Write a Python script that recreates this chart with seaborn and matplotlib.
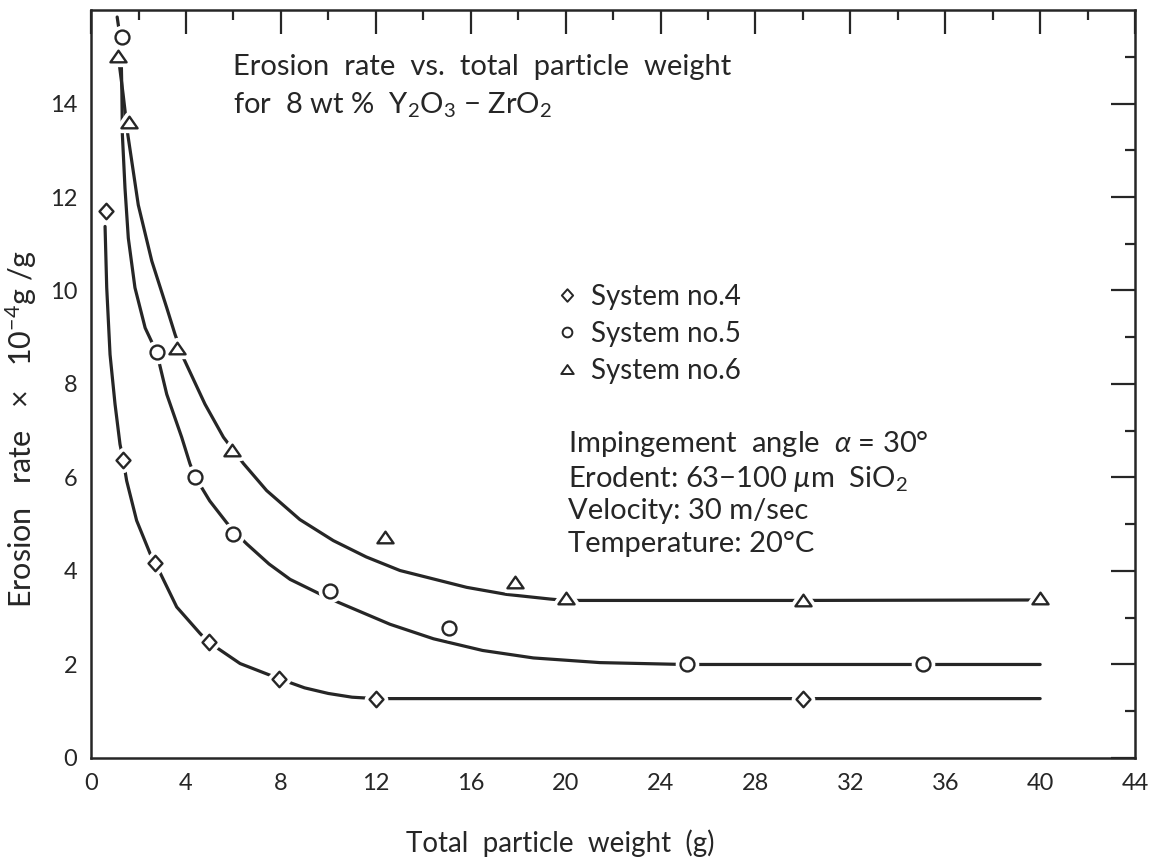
import numpy as np
import pandas as pd
import matplotlib
matplotlib.use("Agg")
import matplotlib.pyplot as plt
from matplotlib.lines import Line2D
from matplotlib.path import Path
import seaborn as sns

# ---------------- data ----------------
s4_x = [0.65, 1.35, 2.7, 4.95, 7.9, 12.0, 30.0]
s4_y = [11.7, 6.37, 4.17, 2.48, 1.70, 1.27, 1.27]

s5_x = [1.3, 2.77, 4.36, 6.0, 10.05, 15.1, 25.1, 35.05]
s5_y = [15.42, 8.68, 6.02, 4.8, 3.58, 2.78, 2.0, 2.0]

s6_x = [1.12, 1.58, 3.61, 5.93, 12.4, 17.87, 20.0, 30.0, 40.0]
s6_y = [15.02, 13.6, 8.78, 6.58, 4.72, 3.77, 3.42, 3.37, 3.42]

# fitted curves as drawn in the reference
c4_x = [0.59, 0.66, 0.80, 1.01, 1.22, 1.36, 1.50, 1.92, 2.49, 2.70, 3.61, 4.6,
        4.95, 6.28, 7.9, 9.0, 10.0, 11.0, 12.0, 20.0, 30.0, 40.0]
c4_y = [11.37, 10.06, 8.63, 7.57, 6.71, 6.36, 5.93, 5.08, 4.37, 4.18, 3.23, 2.66,
        2.48, 2.02, 1.70, 1.50, 1.38, 1.30, 1.27, 1.27, 1.27, 1.27]

c5_x = [1.10, 1.20, 1.27, 1.30, 1.32, 1.43, 1.57, 1.85, 2.28, 2.77, 3.19, 3.82,
        4.17, 4.38, 5.0, 5.72, 6.0, 6.56, 7.5, 8.39, 10.0, 12.6, 14.43, 16.5,
        18.64, 21.45, 25.0, 35.0, 40.0]
c5_y = [15.85, 15.5, 15.0, 14.2, 13.33, 12.19, 11.12, 10.06, 9.20, 8.67, 7.78, 6.86,
        6.29, 6.02, 5.5, 5.03, 4.86, 4.58, 4.15, 3.82, 3.42, 2.86, 2.55, 2.30,
        2.14, 2.04, 2.0, 2.0, 2.0]

c6_x = [1.15, 1.35, 1.55, 1.99, 2.56, 3.19, 3.54, 3.89, 4.80, 5.58, 6.42, 7.40,
        8.8, 10.21, 11.6, 13.02, 15.83, 17.5, 19.34, 20.0, 30.0, 40.0]
c6_y = [15.0, 14.2, 13.33, 11.83, 10.63, 9.63, 9.06, 8.56, 7.57, 6.86, 6.30, 5.72,
        5.1, 4.65, 4.3, 4.01, 3.65, 3.5, 3.40, 3.37, 3.37, 3.38]

labels = ["System no.4", "System no.5", "System no.6"]
x_ticks = list(range(0, 45, 4))
y_ticks = list(range(0, 15, 2))

# ---------------- style ----------------
sns.set_style("white")
FONT = ["Lato", "DejaVu Sans"]
plt.rcParams["font.family"] = FONT
plt.rcParams["mathtext.fontset"] = "custom"
plt.rcParams["mathtext.rm"] = "Lato"
plt.rcParams["mathtext.it"] = "Lato:italic"
plt.rcParams["mathtext.default"] = "regular"

INK = "#262626"

# marker shapes (closed paths)
TRI = Path([(-1, -0.72), (1, -0.72), (0, 0.72), (-1, -0.72)],
           [Path.MOVETO, Path.LINETO, Path.LINETO, Path.CLOSEPOLY])
DIA = Path([(0, 1), (0.9, 0), (0, -1), (-0.9, 0), (0, 1)],
           [Path.MOVETO, Path.LINETO, Path.LINETO, Path.LINETO, Path.CLOSEPOLY])

fig = plt.figure(figsize=(11.6, 8.63), dpi=100)
ax = fig.add_axes([0.0785, 0.1217, 0.9, 0.8667])

# curves
for cx, cy in [(c4_x, c4_y), (c5_x, c5_y), (c6_x, c6_y)]:
    sns.lineplot(x=cx, y=cy, ax=ax, color=INK, linewidth=2.3, sort=False,
                 estimator=None, zorder=2)

series = [(s4_x, s4_y, DIA, 125), (s5_x, s5_y, "o", 100), (s6_x, s6_y, TRI, 135)]

# white halos (gaps in the curves around the markers)
for sx, sy, mk, sz in series:
    sns.scatterplot(x=sx, y=sy, ax=ax, marker=mk, s=sz, color="white",
                    edgecolor="white", linewidth=7, zorder=3)
# open markers
for sx, sy, mk, sz in series:
    sns.scatterplot(x=sx, y=sy, ax=ax, marker=mk, s=sz, color="white",
                    edgecolor=INK, linewidth=1.7, zorder=4)

ax.set_xlim(0, 44)
ax.set_ylim(0, 16)
ax.set_xticks(x_ticks)
ax.set_xticks(list(range(0, 45, 2)), minor=True)
ax.set_yticks(y_ticks)
ax.set_yticks(list(range(1, 16, 2)), minor=True)
ax.set_xticklabels([str(t) for t in x_ticks])
ax.set_yticklabels([str(t) for t in y_ticks])

ax.tick_params(which="both", direction="in", top=True, right=True,
               color=INK, width=1.6, labelsize=17, labelcolor=INK)
ax.tick_params(which="major", length=17)
ax.tick_params(which="minor", length=7)
ax.tick_params(axis="x", which="major", pad=11)
ax.tick_params(axis="y", which="major", pad=10)
for sp in ax.spines.values():
    sp.set_linewidth(1.8)
    sp.set_color(INK)
    sp.set_visible(True)

ax.set_xlabel("Total  particle  weight  (g)", fontsize=20, color=INK)
ax.xaxis.set_label_coords(0.449, -0.095)
ax.xaxis.label.set_va("top")
ax.set_ylabel(r"Erosion   rate   $\times$   10$^{-4}$g /g", fontsize=22, color=INK)
ax.yaxis.set_label_coords(-0.05, 0.44)

# title block
ax.text(0.136, 0.913, "Erosion  rate  vs.  total  particle  weight", transform=ax.transAxes,
        fontsize=21, color=INK, va="baseline", ha="left")
ax.text(0.136, 0.862, r"for  8 wt %  Y$_2$O$_3$ $-$ ZrO$_2$", transform=ax.transAxes,
        fontsize=21, color=INK, va="baseline", ha="left")

# legend
handles = [
    Line2D([], [], linestyle="none", marker=DIA, markersize=9, markerfacecolor="white",
           markeredgecolor=INK, markeredgewidth=1.4),
    Line2D([], [], linestyle="none", marker="o", markersize=7, markerfacecolor="white",
           markeredgecolor=INK, markeredgewidth=1.4),
    Line2D([], [], linestyle="none", marker=TRI, markersize=9, markerfacecolor="white",
           markeredgecolor=INK, markeredgewidth=1.4),
]
leg = ax.legend(handles, labels, loc="upper left", bbox_to_anchor=(0.448, 0.634),
                frameon=False, fontsize=20, handlelength=0.6, handletextpad=0.55,
                labelspacing=0.4, borderaxespad=0, borderpad=0)
for t in leg.get_texts():
    t.set_color(INK)

# conditions block
cond = [
    r"Impingement  angle  $\mathit{\alpha}$ = 30°",
    r"Erodent: 63$-$100 $\mathit{\mu}$m  SiO$_2$",
    "Velocity: 30 m/sec",
    "Temperature: 20°C",
]
cond_y = [0.409, 0.362, 0.3195, 0.275]
for txt, yy in zip(cond, cond_y):
    ax.text(0.457, yy, txt, transform=ax.transAxes, fontsize=21, color=INK,
            va="baseline", ha="left")

fig.savefig("out.png", dpi=100, facecolor="white")
